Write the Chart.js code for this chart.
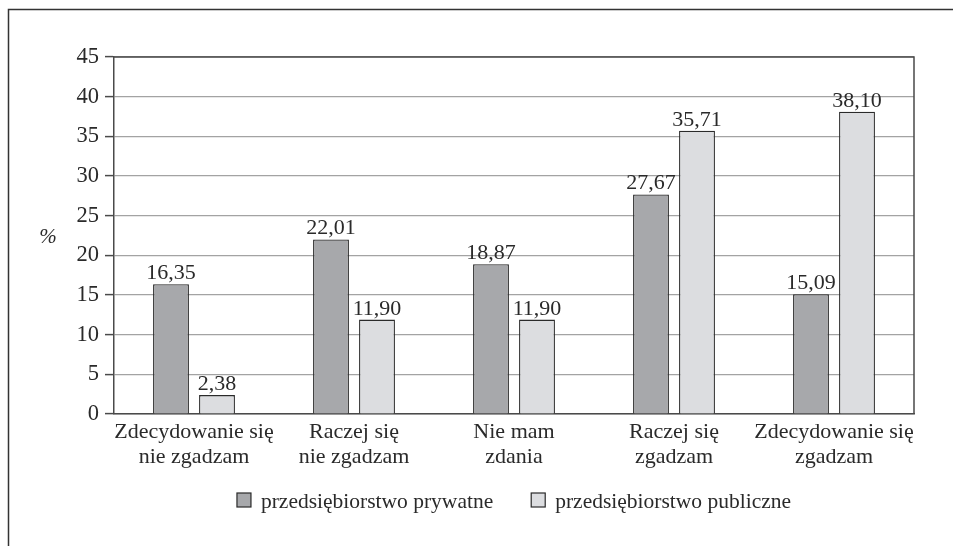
<!DOCTYPE html>
<html>
<head>
<meta charset="utf-8">
<script src="https://cdn.jsdelivr.net/npm/chart.js@4/dist/chart.umd.min.js"></script>
<style>
  html, body { margin: 0; padding: 0; background: #fff; }
  #wrap { width: 953px; height: 546px; }
</style>
</head>
<body>
<div id="wrap"><canvas id="c" width="953" height="546"></canvas></div>
<script>
// Survey answers (Likert scale) and percentage shares per enterprise type
const categories = [
  ["Zdecydowanie się", "nie zgadzam"],
  ["Raczej się", "nie zgadzam"],
  ["Nie mam", "zdania"],
  ["Raczej się", "zgadzam"],
  ["Zdecydowanie się", "zgadzam"]
];
const seriesNames = ["przedsiębiorstwo prywatne", "przedsiębiorstwo publiczne"];
const privateValues = [16.35, 22.01, 18.87, 27.67, 15.09];
const publicValues = [2.38, 11.90, 11.90, 35.71, 38.10];
const yTicks = [0, 5, 10, 15, 20, 25, 30, 35, 40, 45];

const FONT = "'Liberation Serif', 'Times New Roman', serif";
const INK = '#2a2a2a';
const AXIS = '#4a4a4a';

const fmt = v => v.toFixed(2).replace('.', ',');

// Value labels above each bar, outer frame, plot frame, unit label and legend
const decorations = {
  id: 'decorations',
  beforeDraw(chart) {
    const ctx = chart.ctx;
    ctx.save();
    ctx.strokeStyle = '#333';
    ctx.lineWidth = 1.5;
    ctx.beginPath();
    ctx.moveTo(8.5, chart.height);
    ctx.lineTo(8.5, 9.5);
    ctx.lineTo(chart.width, 9.5);
    ctx.stroke();
    ctx.restore();
  },
  afterDatasetsDraw(chart) {
    const ctx = chart.ctx;
    const a = chart.chartArea;
    ctx.save();
    // top and right edges of the plot
    ctx.strokeStyle = AXIS;
    ctx.lineWidth = 1.5;
    ctx.beginPath();
    ctx.moveTo(a.left, a.top);
    ctx.lineTo(a.right, a.top);
    ctx.lineTo(a.right, a.bottom);
    ctx.stroke();

    ctx.fillStyle = INK;
    ctx.font = '22px ' + FONT;
    ctx.textAlign = 'center';
    ctx.textBaseline = 'alphabetic';
    chart.data.datasets.forEach((ds, i) => {
      chart.getDatasetMeta(i).data.forEach((el, j) => {
        ctx.fillText(fmt(ds.data[j]), el.x, el.y - 5);
      });
    });

    // unit label
    ctx.font = 'italic 21px ' + FONT;
    ctx.fillText('%', 48, 243);

    // legend, centred under the plot
    ctx.font = '21.5px ' + FONT;
    ctx.textAlign = 'left';
    ctx.textBaseline = 'alphabetic';
    const box = 14, gapText = 10, gapItems = 38;
    const widths = chart.data.datasets.map(ds => ctx.measureText(ds.label).width);
    const total = widths.reduce((s, w) => s + box + gapText + w, 0) + gapItems;
    let x = (a.left + a.right) / 2 - total / 2;
    const yTop = 493;
    chart.data.datasets.forEach((ds, i) => {
      ctx.fillStyle = ds.backgroundColor;
      ctx.fillRect(x, yTop, box, box);
      ctx.strokeStyle = INK;
      ctx.lineWidth = 1.2;
      ctx.strokeRect(x, yTop, box, box);
      ctx.fillStyle = INK;
      ctx.fillText(ds.label, x + box + gapText, 508);
      x += box + gapText + widths[i] + gapItems;
    });
    ctx.restore();
  }
};

new Chart(document.getElementById('c'), {
  type: 'bar',
  data: {
    labels: categories,
    datasets: [
      {
        label: seriesNames[0],
        data: privateValues,
        backgroundColor: '#a7a8ab',
        borderColor: INK,
        borderWidth: 1.3,
        categoryPercentage: 0.575,
        barPercentage: 0.78
      },
      {
        label: seriesNames[1],
        data: publicValues,
        backgroundColor: '#dcdde0',
        borderColor: INK,
        borderWidth: 1.3,
        categoryPercentage: 0.575,
        barPercentage: 0.78
      }
    ]
  },
  options: {
    responsive: false,
    animation: false,
    devicePixelRatio: 1,
    layout: { padding: { left: 0, top: 57, right: 39, bottom: 0 } },
    plugins: {
      legend: { display: false },
      tooltip: { enabled: false }
    },
    scales: {
      x: {
        afterFit(s) { s.height = 132; },
        grid: { display: false, drawTicks: false },
        border: { display: true, color: AXIS, width: 1.5 },
        ticks: {
          color: INK,
          padding: 6,
          maxRotation: 0,
          autoSkip: false,
          font: { family: FONT, size: 22, lineHeight: 1.14 }
        }
      },
      y: {
        min: 0,
        max: 45,
        afterFit(s) { s.width = 114; },
        afterBuildTicks(s) { s.ticks = yTicks.map(v => ({ value: v })); },
        grid: {
          color: '#a3a3a3',
          lineWidth: 1.2,
          tickLength: 9,
          tickColor: AXIS,
          tickWidth: 1.5
        },
        border: { display: true, color: AXIS, width: 1.5 },
        ticks: {
          color: INK,
          padding: 6,
          font: { family: FONT, size: 22.5 },
          callback: v => String(v)
        }
      }
    }
  },
  plugins: [decorations]
});
</script>
</body>
</html>
